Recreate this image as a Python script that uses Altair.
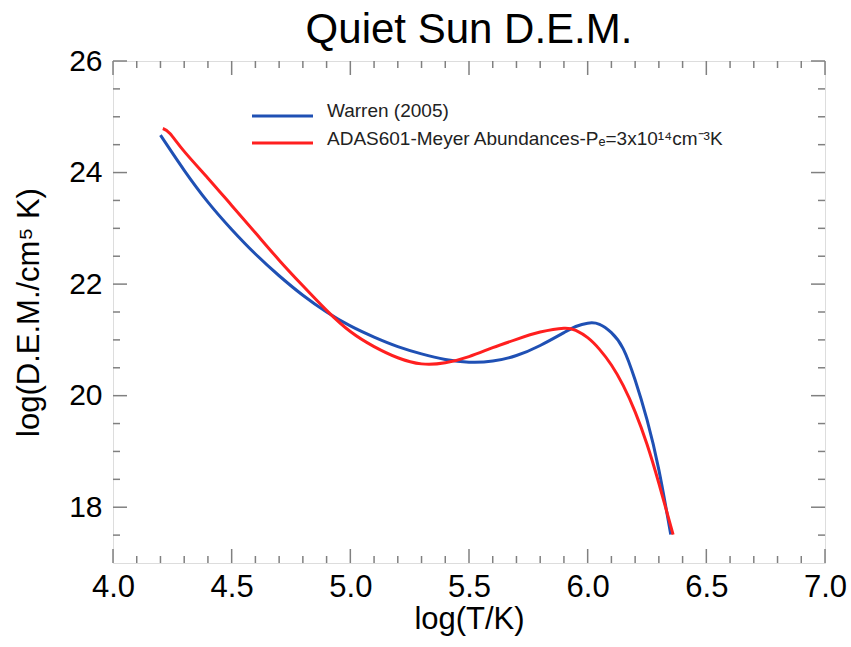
import altair as alt
import pandas as pd

# ---- data ----
warren_x = [4.20, 4.30, 4.40, 4.50, 4.60, 4.70, 4.80, 4.90, 5.00, 5.10, 5.20, 5.30,
            5.40, 5.50, 5.60, 5.70, 5.80, 5.90, 5.95, 6.00, 6.05, 6.10, 6.15, 6.20,
            6.25, 6.30, 6.35]
warren_y = [24.67, 24.04, 23.47, 22.98, 22.54, 22.15, 21.80, 21.50, 21.25, 21.05, 20.88, 20.75,
            20.65, 20.60, 20.62, 20.72, 20.90, 21.13, 21.24, 21.30, 21.28, 21.13, 20.84, 20.28,
            19.57, 18.67, 17.51]

adas_x = [4.21, 4.24, 4.30, 4.40, 4.50, 4.60, 4.70, 4.80, 4.90, 5.00, 5.10, 5.20, 5.30,
          5.40, 5.50, 5.60, 5.70, 5.80, 5.90, 5.95, 6.00, 6.05, 6.10, 6.15, 6.20, 6.25,
          6.30, 6.36]
adas_y = [24.79, 24.70, 24.38, 23.90, 23.41, 22.92, 22.43, 21.97, 21.53, 21.15, 20.88, 20.68, 20.57,
          20.59, 20.70, 20.86, 21.01, 21.14, 21.21, 21.17, 21.04, 20.83, 20.55, 20.18, 19.71, 19.13,
          18.43, 17.51]

series_names = ["Warren (2005)", "ADAS601-Meyer Abundances-Pₑ=3x10¹⁴cm⁻³K"]
series_colors = ["#1f50b4", "#ff1f1f"]

x_labels = [4.0, 4.5, 5.0, 5.5, 6.0, 6.5, 7.0]
x_minor = [4.1, 4.2, 4.3, 4.4, 4.6, 4.7, 4.8, 4.9, 5.1, 5.2, 5.3, 5.4, 5.6, 5.7, 5.8, 5.9,
           6.1, 6.2, 6.3, 6.4, 6.6, 6.7, 6.8, 6.9]
y_labels = [18, 20, 22, 24, 26]
y_minor = [17.5, 18.5, 19, 19.5, 20.5, 21, 21.5, 22.5, 23, 23.5, 24.5, 25, 25.5]

W, H = 712, 502
FONT = "Liberation Sans"
GRAY = "#808080"

xscale = alt.Scale(domain=[4.0, 7.0], nice=False, zero=False)
yscale = alt.Scale(domain=[17, 26], nice=False, zero=False)

df_w = pd.DataFrame({"x": warren_x, "y": warren_y})
df_a = pd.DataFrame({"x": adas_x, "y": adas_y})

xaxis = alt.Axis(values=x_labels, format=".1f", title="log(T/K)", grid=False, ticks=False,
                 tickSize=0, domain=False, labelFontSize=31, labelFont=FONT, labelColor="black",
                 labelPadding=9, titleFont=FONT, titleFontSize=31, titleFontWeight="normal",
                 titleColor="black", titleBaseline="alphabetic", titleY=65, labelFlush=False)
yaxis = alt.Axis(values=y_labels, format="d", title="log(D.E.M./cm⁵ K)", grid=False, ticks=False,
                 tickSize=0, domain=False, labelFontSize=30, labelFont=FONT, labelColor="black",
                 labelPadding=11, titleFont=FONT, titleFontSize=31, titleFontWeight="normal",
                 titleColor="black", titleBaseline="alphabetic", titleX=-75, labelFlush=False)

blue = alt.Chart(df_w).mark_line(color=series_colors[0], strokeWidth=3, interpolate="natural").encode(
    x=alt.X("x:Q", scale=xscale, axis=xaxis),
    y=alt.Y("y:Q", scale=yscale, axis=yaxis),
)
red = alt.Chart(df_a).mark_line(color=series_colors[1], strokeWidth=3, interpolate="natural").encode(
    x=alt.X("x:Q", scale=xscale),
    y=alt.Y("y:Q", scale=yscale),
)

def xticks(vals, length):
    d = pd.DataFrame({"v": vals})
    bottom = alt.Chart(d).mark_rule(color=GRAY, strokeWidth=1.5).encode(
        x=alt.X("v:Q", scale=xscale), y=alt.value(H), y2=alt.value(H - length))
    top = alt.Chart(d).mark_rule(color=GRAY, strokeWidth=1.5).encode(
        x=alt.X("v:Q", scale=xscale), y=alt.value(0), y2=alt.value(length))
    return [bottom, top]

def yticks(vals, length):
    d = pd.DataFrame({"v": vals})
    left = alt.Chart(d).mark_rule(color=GRAY, strokeWidth=1.5).encode(
        y=alt.Y("v:Q", scale=yscale), x=alt.value(0), x2=alt.value(length))
    right = alt.Chart(d).mark_rule(color=GRAY, strokeWidth=1.5).encode(
        y=alt.Y("v:Q", scale=yscale), x=alt.value(W), x2=alt.value(W - length))
    return [left, right]

tick_layers = xticks(x_labels, 14) + xticks(x_minor, 7) + yticks(y_labels, 14) + yticks(y_minor, 7)

leg_df = pd.DataFrame({"name": series_names, "color": series_colors})
leg_layers = []
for i, (ly, ty) in enumerate([(55, 56), (82, 84)]):
    sub = leg_df.iloc[[i]]
    leg_layers.append(alt.Chart(sub).mark_rule(color=series_colors[i], strokeWidth=3).encode(
        x=alt.value(139), x2=alt.value(200), y=alt.value(ly)))
    leg_layers.append(alt.Chart(sub).mark_text(align="left", baseline="alphabetic", font=FONT,
                                               fontSize=19, color="#222222").encode(
        x=alt.value(214), y=alt.value(ty), text="name:N"))

chart = alt.layer(blue, red, *tick_layers, *leg_layers).properties(
    width=W, height=H,
    title=alt.TitleParams("Quiet Sun D.E.M.", font=FONT, fontSize=42, fontWeight="normal",
                          color="black", anchor="middle", frame="group", baseline="alphabetic",
                          offset=0, dy=39),
    autosize=alt.AutoSizeParams(type="none"),
    padding={"left": 113, "top": 61, "right": 26, "bottom": 84},
).configure_view(stroke=GRAY, strokeWidth=1.5).configure(background="white")

chart.save("out.html", embed_options={"renderer": "svg", "actions": False})
